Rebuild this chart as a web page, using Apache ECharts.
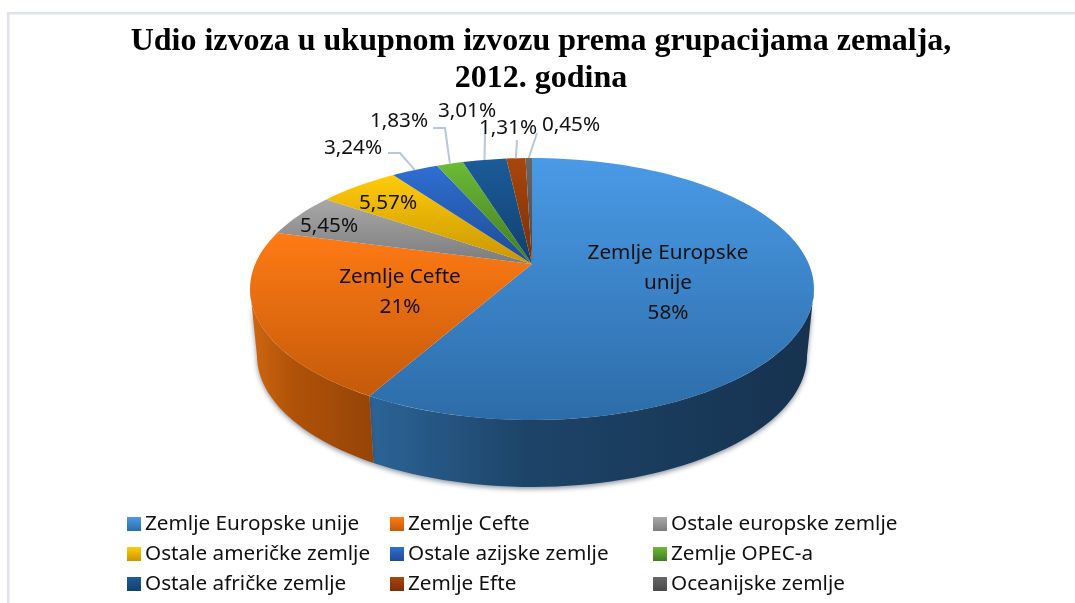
<!DOCTYPE html>
<html>
<head>
<meta charset="utf-8">
<title>Udio izvoza</title>
<script src="https://cdn.jsdelivr.net/npm/echarts@6/dist/echarts.min.js"></script>
<style>
  html, body { margin: 0; padding: 0; background: #fff; }
  #main { width: 1075px; height: 603px; }
</style>
</head>
<body>
<div id="main"></div>
<script>
// podaci
const categories = [
  "Zemlje Europske unije", "Zemlje Cefte", "Ostale europske zemlje",
  "Ostale američke zemlje", "Ostale azijske zemlje", "Zemlje OPEC-a",
  "Ostale afričke zemlje", "Zemlje Efte", "Oceanijske zemlje"
];
const values = [58.14, 21, 5.45, 5.57, 3.24, 1.83, 3.01, 1.31, 0.45];
const sliceLabels = [
  "Zemlje Europske\nunije\n58%", "Zemlje Cefte\n21%", "5,45%", "5,57%",
  "3,24%", "1,83%", "3,01%", "1,31%", "0,45%"
];

// boje: vrh i dno gradijenta
const topColors = [
  ["#4a9ae6", "#2c6ca8"], ["#ff7a14", "#c45a0a"], ["#a8a8a8", "#7c7c7c"],
  ["#ffcb0a", "#c99500"], ["#2f6ed2", "#1f4c94"], ["#6cbb36", "#427a22"],
  ["#1c5c9a", "#123f6c"], ["#a8460c", "#7a2f06"], ["#666666", "#4a4a4a"]
];
const sideColors = { 0: ["#2b6497", "#1d4468", "#16324f"], 1: ["#cf6710", "#b05208", "#964407"] };

// položaj natpisa [x, y] i izvodne linije od natpisa prema kriški
const labelPos = [
  [668, 283], [400, 292], [329, 226], [388, 203],
  [353, 148], [399, 121], [467, 111], [508, 128], [571, 125]
];
const leaderPts = {
  4: [[388, 153], [400, 153]],
  5: [[433, 128], [445, 128]],
  6: [[485, 133]],
  7: [[517, 140]],
  8: [[537, 133]]
};

// perspektiva diska
const TILT = 0.191;
const topDisc = { a: 276.8, b: 126.2, x0: 532, y0: 264 };
const lowDisc = { a: 270, b: 127, x0: 532, y0: 330 };
const SIDE_FROM = 101, SIDE_TO = 259;

const total = values.reduce((s, v) => s + v, 0);
const startDeg = values.map((v, i) =>
  values.slice(0, i).reduce((s, x) => s + x, 0) / total * 360);

const rimPoint = (disc, deg) => {
  const t = deg * Math.PI / 180;
  const u = Math.sin(t), v = -Math.cos(t);
  const w = 1 - TILT * v;
  return [disc.x0 + disc.a * u / w, disc.y0 + disc.b * v / w];
};

const arcPoints = (disc, from, to) => {
  const pts = [];
  const n = Math.max(2, Math.ceil((to - from) / 2));
  for (let i = 0; i <= n; i++) pts.push(rimPoint(disc, from + (to - from) * i / n));
  return pts;
};

const vGrad = (c) => new echarts.graphic.LinearGradient(0, 0, 0, 1, [
  { offset: 0, color: c[0] }, { offset: 1, color: c[1] }
]);
const hGrad = (c) => new echarts.graphic.LinearGradient(0, 0, 1, 0, [
  { offset: 0, color: c[0] }, { offset: 0.35, color: c[1] }, { offset: 1, color: c[2] }
]);

const renderSlice = (idx) => () => {
  const from = startDeg[idx];
  const to = from + values[idx] / total * 360;
  const children = [];

  // bočna strana
  const sFrom = Math.max(from, SIDE_FROM), sTo = Math.min(to, SIDE_TO);
  if (sTo > sFrom && sideColors[idx]) {
    const pts = arcPoints(topDisc, sFrom, sTo)
      .concat(arcPoints(lowDisc, sFrom, sTo).reverse());
    children.push({
      type: "polygon", z2: 1, shape: { points: pts },
      style: {
        fill: hGrad(sideColors[idx]),
        shadowBlur: 5, shadowColor: "rgba(50,60,80,0.55)", shadowOffsetY: 2
      }
    });
  }

  // gornja ploha
  children.push({
    type: "polygon", z2: 2,
    shape: { points: [[topDisc.x0, topDisc.y0]].concat(arcPoints(topDisc, from, to)) },
    style: { fill: vGrad(topColors[idx]) }
  });

  // izvodna linija
  if (leaderPts[idx]) {
    children.push({
      type: "polyline", z2: 3,
      shape: { points: leaderPts[idx].concat([rimPoint(topDisc, (from + to) / 2)]) },
      style: { fill: null, stroke: "#b8c6d9", lineWidth: 2 }
    });
  }

  // natpis
  children.push({
    type: "text", z2: 4,
    style: {
      text: sliceLabels[idx], x: labelPos[idx][0], y: labelPos[idx][1],
      align: "center", verticalAlign: "middle",
      font: "20.7px 'Noto Sans'", lineHeight: 30, fill: "#111"
    }
  });
  return { type: "group", children: children };
};

const legendBase = {
  orient: "vertical", top: 511, height: 92, padding: 0, icon: "rect",
  itemWidth: 14, itemHeight: 14, itemGap: 4, selectedMode: false,
  textStyle: { fontFamily: "Noto Sans", fontSize: 20.7, lineHeight: 26, color: "#111", padding: [0, 0, 0, -1] }
};

const option = {
  backgroundColor: "#fff",
  animation: false,
  title: {
    text: "Udio izvoza u ukupnom izvozu prema grupacijama zemalja,\n2012. godina",
    left: 536, top: 18, textAlign: "center",
    textStyle: { fontFamily: "Liberation Serif", fontWeight: "bold", fontSize: 32, lineHeight: 37, color: "#000" }
  },
  legend: [
    { ...legendBase, left: 127, data: [categories[0], categories[3], categories[6]] },
    { ...legendBase, left: 390, data: [categories[1], categories[4], categories[7]] },
    { ...legendBase, left: 653, data: [categories[2], categories[5], categories[8]] }
  ],
  graphic: [
    { type: "rect", shape: { x: 7, y: 12, width: 1068, height: 2.5 }, style: { fill: "#dfe4ea" }, silent: true },
    { type: "rect", shape: { x: 7, y: 12, width: 2.5, height: 591 }, style: { fill: "#dfe4ea" }, silent: true }
  ],
  series: categories.map((name, i) => ({
    type: "custom",
    name: name,
    coordinateSystem: "none",
    silent: true,
    itemStyle: { color: vGrad(topColors[i]) },
    data: [[values[i]]],
    renderItem: renderSlice(i)
  }))
};

const chart = echarts.init(document.getElementById("main"));
chart.setOption(option);
</script>
</body>
</html>
